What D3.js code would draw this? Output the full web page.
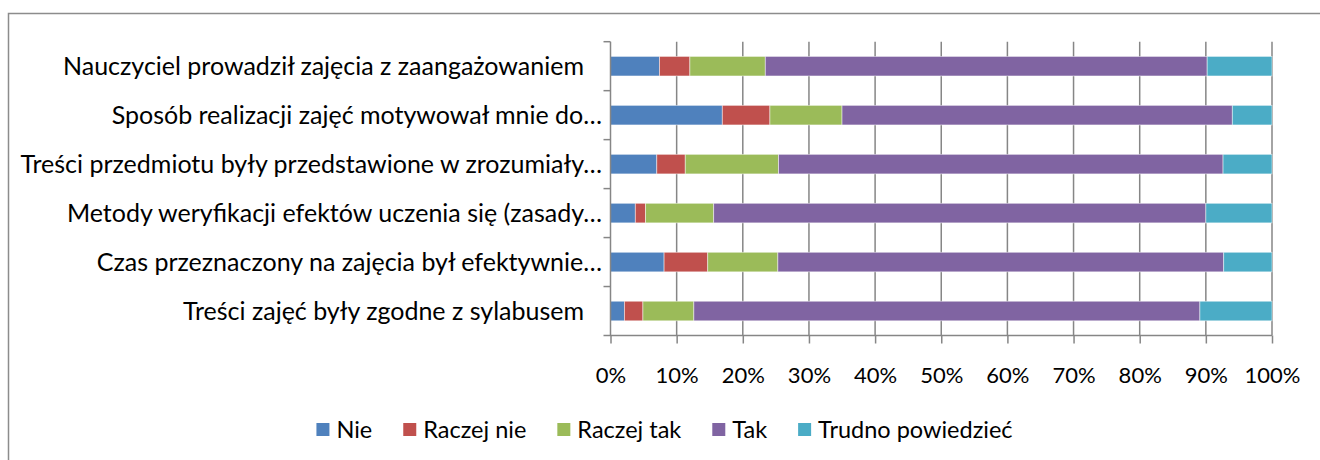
<!DOCTYPE html>
<html>
<head>
<meta charset="utf-8">
<script src="https://cdn.jsdelivr.net/npm/d3@7/dist/d3.min.js"></script>
<style>
  body { margin: 0; background: #fff; }
  svg text { font-family: Lato, "Open Sans", sans-serif; fill: #000; }
</style>
</head>
<body>
<svg width="1320" height="460"></svg>
<script>
// categories, top to bottom
var categories = [
  "Nauczyciel prowadził zajęcia z zaangażowaniem",
  "Sposób realizacji zajęć motywował mnie do…",
  "Treści przedmiotu były przedstawione w zrozumiały…",
  "Metody weryfikacji efektów uczenia się (zasady…",
  "Czas przeznaczony na zajęcia był efektywnie…",
  "Treści zajęć były zgodne z sylabusem"
];
var seriesNames = ["Nie", "Raczej nie", "Raczej tak", "Tak", "Trudno powiedzieć"];
var seriesColors = ["#4F81BD", "#C0504D", "#9BBB59", "#8064A2", "#4BACC6"];

// percent of answers
var nie       = [7.4, 16.9, 7.0, 3.75, 8.1, 2.1];
var raczejNie = [4.6, 7.2, 4.3, 1.55, 6.6, 2.8];
var raczejTak = [11.4, 10.9, 14.1, 10.3, 10.6, 7.7];
var tak       = [66.8, 59.0, 67.2, 74.4, 67.4, 76.5];
var trudno    = [9.8, 6.0, 7.4, 10.0, 7.3, 10.9];
var xTicks = [0, 10, 20, 30, 40, 50, 60, 70, 80, 90, 100];

var seriesValues = [nie, raczejNie, raczejTak, tak, trudno];

// table for d3.stack
var rows = categories.map(function(c, i){
  var r = {cat: c};
  seriesNames.forEach(function(s, j){ r[s] = seriesValues[j][i]; });
  return r;
});

var svg = d3.select("svg");
var gridColor = "#868686";

// outer chart frame (right/bottom edges run off the picture)
svg.append("rect")
  .attr("x", 8.5).attr("y", 13.5)
  .attr("width", 1340).attr("height", 500)
  .attr("fill", "none")
  .attr("stroke", "#8c8c8c")
  .attr("stroke-width", 1.5);

var x = d3.scaleLinear().domain([0, 100]).range([610.5, 1272]);
var y = d3.scaleBand().domain(categories).range([41.7, 335.5])
  .paddingInner(0.6).paddingOuter(0.3);

var plotTop = 41.7, plotBottom = 335.5;

// vertical gridlines
svg.append("g").selectAll("line")
  .data(xTicks.slice(1))
  .enter().append("line")
  .attr("x1", function(d){ return x(d); })
  .attr("x2", function(d){ return x(d); })
  .attr("y1", plotTop).attr("y2", plotBottom)
  .attr("stroke", gridColor)
  .attr("stroke-width", 1.5);

// bottom axis
var xAxis = d3.axisBottom(x)
  .tickValues(xTicks)
  .tickSize(8)
  .tickPadding(24)
  .tickFormat(function(d){ return d + "%"; });

var gx = svg.append("g")
  .attr("transform", "translate(0," + plotBottom + ")")
  .call(xAxis);
gx.select(".domain").attr("stroke", gridColor).attr("stroke-width", 1.5)
  .attr("d", "M" + (x(0) - 7) + ",0H" + x(100));
gx.selectAll(".tick line").attr("stroke", gridColor).attr("stroke-width", 1.5);
gx.selectAll(".tick text")
  .style("font-family", "Lato, sans-serif")
  .style("font-size", "22px")
  .attr("fill", "#000");

// stacked bars
var stack = d3.stack().keys(seriesNames);
var layers = stack(rows);

svg.append("g").selectAll("g")
  .data(layers)
  .enter().append("g")
  .attr("fill", function(d, i){ return seriesColors[i]; })
  .selectAll("rect")
  .data(function(d){ return d; })
  .enter().append("rect")
  .attr("x", function(d){ return x(d[0]); })
  .attr("width", function(d){ return x(d[1]) - x(d[0]); })
  .attr("y", function(d){ return y(d.data.cat); })
  .attr("height", y.bandwidth())
  .attr("stroke", "#ffffff")
  .attr("stroke-opacity", 0.6)
  .attr("stroke-width", 0.8);

// left axis line with ticks between categories
var gy = svg.append("g");
gy.append("line")
  .attr("x1", x(0)).attr("x2", x(0))
  .attr("y1", plotTop).attr("y2", plotBottom)
  .attr("stroke", gridColor).attr("stroke-width", 1.5);
var step = y.step();
gy.selectAll("line.tk")
  .data(d3.range(categories.length))
  .enter().append("line")
  .attr("class", "tk")
  .attr("x1", x(0) - 7).attr("x2", x(0))
  .attr("y1", function(i){ return plotTop + i * step; })
  .attr("y2", function(i){ return plotTop + i * step; })
  .attr("stroke", gridColor).attr("stroke-width", 1.5);

// category labels
gy.selectAll("text")
  .data(categories)
  .enter().append("text")
  .attr("x", function(d){ return d.slice(-1) == "…" ? 602 : 584; })
  .attr("y", function(d){ return y(d) + y.bandwidth() / 2; })
  .attr("dy", "0.35em")
  .attr("text-anchor", "end")
  .style("font-size", "25px")
  .text(function(d){ return d; });

// legend
var legend = svg.append("g");
var lx = 0;
seriesNames.forEach(function(s, i){
  var item = legend.append("g").attr("transform", "translate(" + lx + ",0)");
  item.append("rect")
    .attr("x", 0).attr("y", -7)
    .attr("width", 13).attr("height", 13)
    .attr("fill", seriesColors[i]);
  var t = item.append("text")
    .attr("x", 20).attr("y", 0)
    .attr("dy", "0.35em")
    .style("font-size", "23.5px")
    .text(s);
  lx += 20 + t.node().getComputedTextLength() + 31;
});
var legendWidth = lx - 31;
legend.attr("transform", "translate(" + (664.5 - legendWidth / 2) + ",430)");
</script>
</body>
</html>
